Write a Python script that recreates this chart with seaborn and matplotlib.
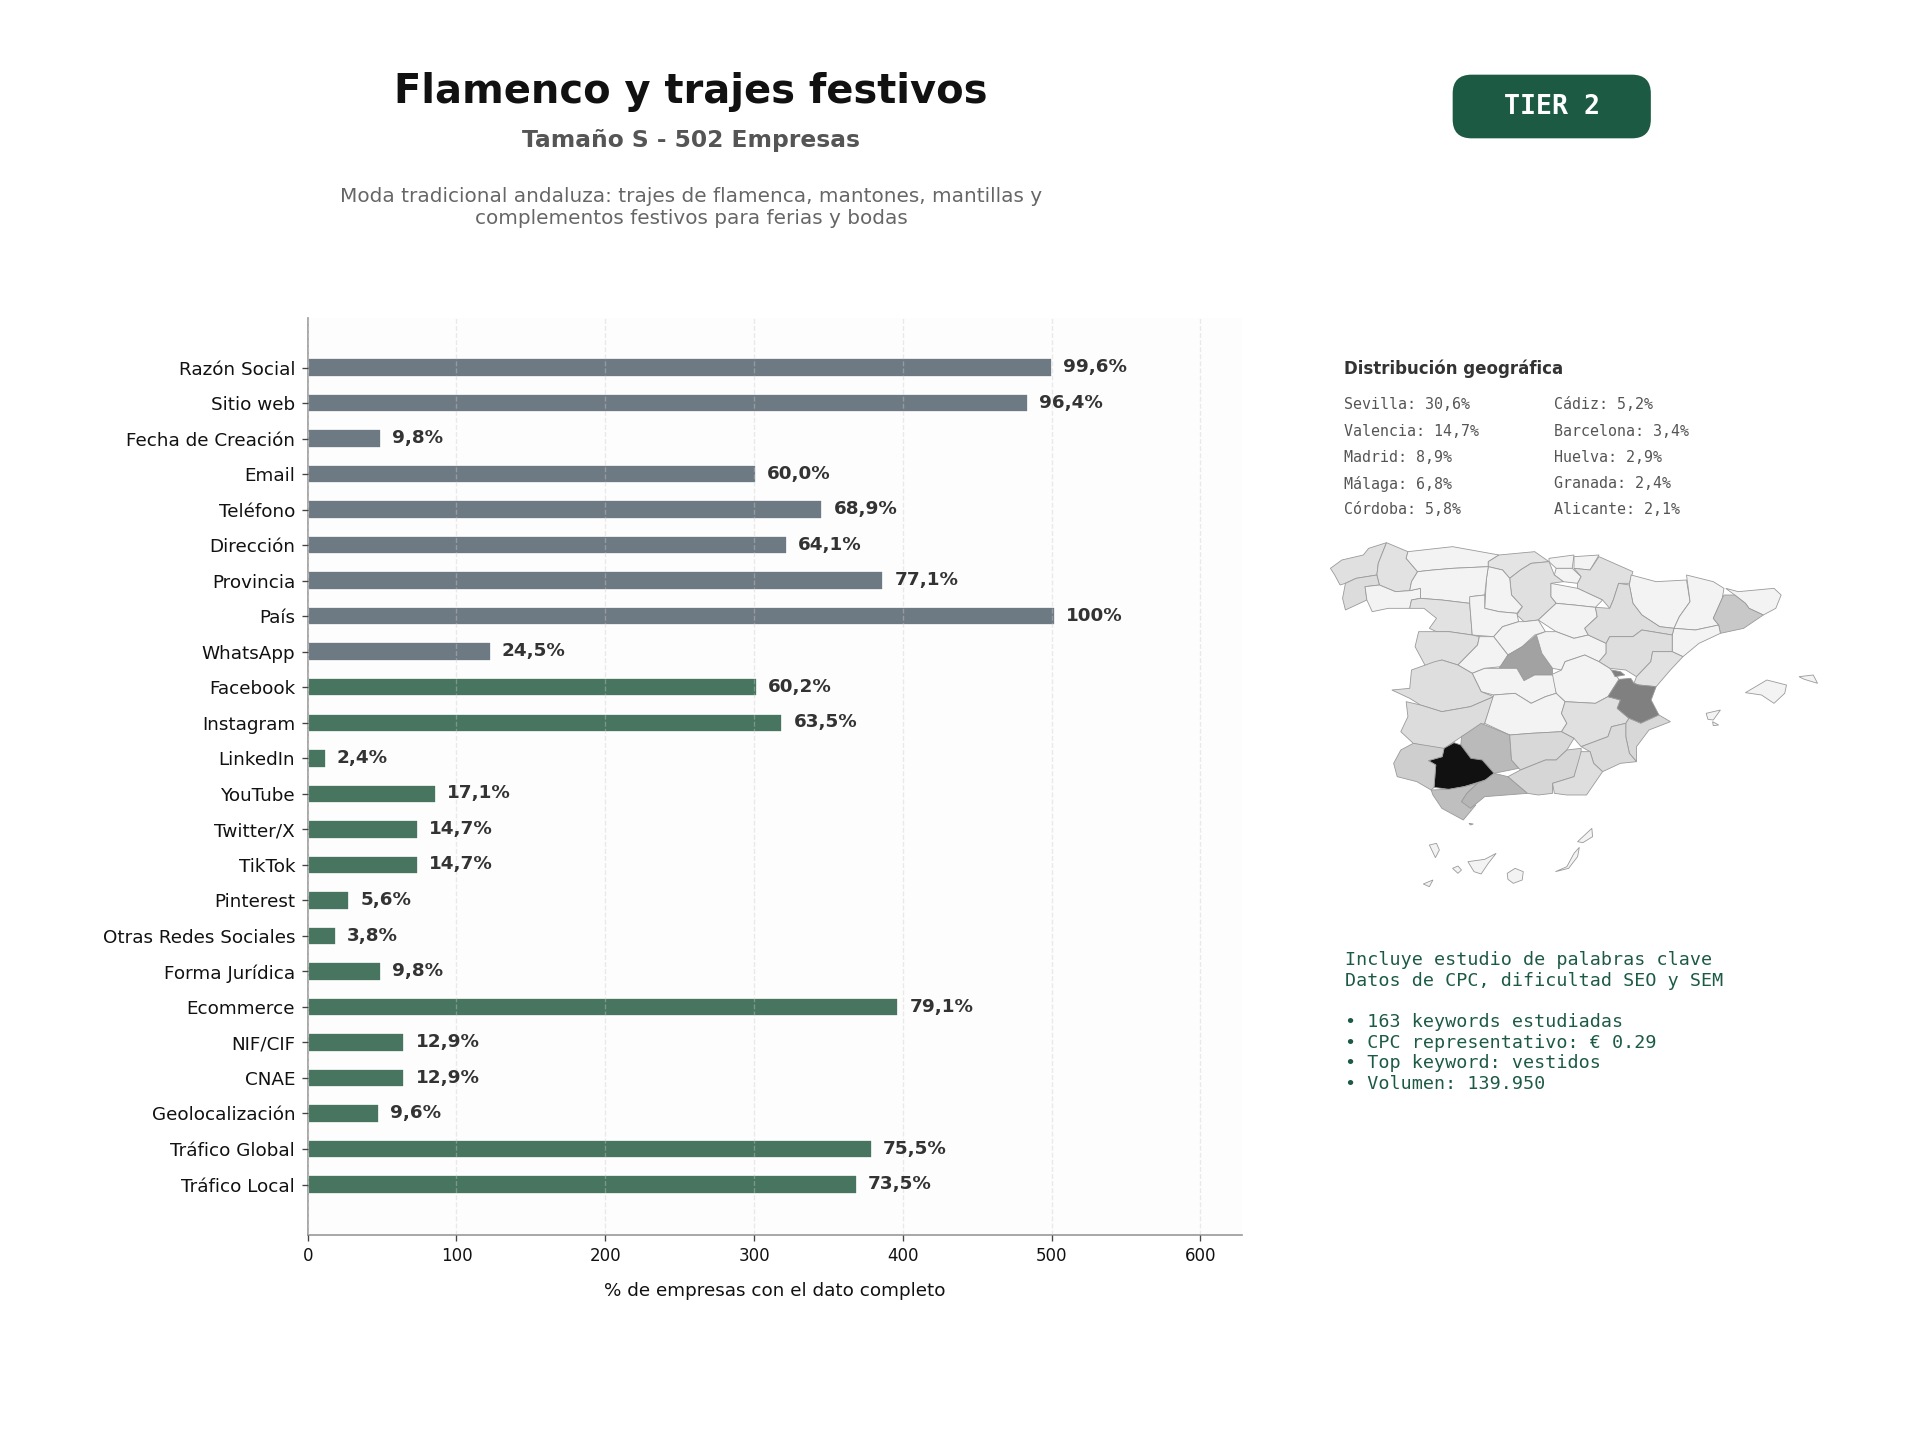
import matplotlib
matplotlib.use("Agg")
import matplotlib.pyplot as plt
from matplotlib.patches import FancyBboxPatch
import pandas as pd
import seaborn as sns

# datos de la grafica
campos = ["Razón Social", "Sitio web", "Fecha de Creación", "Email", "Teléfono", "Dirección",
          "Provincia", "País", "WhatsApp", "Facebook", "Instagram", "LinkedIn", "YouTube",
          "Twitter/X", "TikTok", "Pinterest", "Otras Redes Sociales", "Forma Jurídica",
          "Ecommerce", "NIF/CIF", "CNAE", "Geolocalización", "Tráfico Global", "Tráfico Local"]
empresas = [500, 484, 49, 301, 346, 322, 387, 502, 123, 302, 319, 12, 86, 74, 74, 28, 19, 49,
            397, 65, 65, 48, 379, 369]
etiquetas = ["99,6%", "96,4%", "9,8%", "60,0%", "68,9%", "64,1%", "77,1%", "100%", "24,5%",
             "60,2%", "63,5%", "2,4%", "17,1%", "14,7%", "14,7%", "5,6%", "3,8%", "9,8%",
             "79,1%", "12,9%", "12,9%", "9,6%", "75,5%", "73,5%"]
grupos = ["basico"] * 9 + ["digital"] * 15

geo_col1 = ["Sevilla: 30,6%", "Valencia: 14,7%", "Madrid: 8,9%", "Málaga: 6,8%", "Córdoba: 5,8%"]
geo_col2 = ["Cádiz: 5,2%", "Barcelona: 3,4%", "Huelva: 2,9%", "Granada: 2,4%", "Alicante: 2,1%"]

texto_keywords = ("Incluye estudio de palabras clave\nDatos de CPC, dificultad SEO y SEM\n\n"
                  "• 163 keywords estudiadas\n• CPC representativo: € 0.29\n"
                  "• Top keyword: vestidos\n• Volumen: 139.950")

# tono de gris de cada provincia
tonos = {
    "sevilla": "#111111", "valencia": "#808080", "rincon": "#808080", "madrid": "#a2a2a2",
    "malaga": "#b6b6b6", "cordoba": "#bababa", "cadiz": "#bfbfbf", "barcelona": "#c8c8c8",
    "huelva": "#cecece", "granada": "#d6d6d6", "jaen": "#d8d8d8", "alicante": "#d8d8d8",
    "almeria": "#dedede", "murcia": "#dadada", "albacete": "#e0e0e0", "badajoz": "#dcdcdc",
    "caceres": "#dedede", "salamanca": "#e0e0e0", "zamora": "#e2e2e2", "zaragoza": "#dedede",
    "teruel": "#dedede", "castellon": "#e2e2e2", "burgos": "#e0e0e0", "navarra": "#e0e0e0",
    "cantabria": "#e4e4e4", "coruna": "#e0e0e0", "lugo": "#e2e2e2", "pontevedra": "#dcdcdc",
    "ceuta": "#bbbbbb",
}
tono_claro = "#f3f3f3"

# contornos de provincias (coordenadas del recorte del mapa)
provincias = {
    "coruna": [(88, 145), (120, 120), (180, 105), (195, 85), (245, 68), (222, 130), (218, 165), (160, 175), (130, 190), (115, 195), (100, 165)],
    "lugo": [(245, 68), (305, 95), (300, 115), (332, 155), (315, 185), (310, 212), (270, 215), (225, 195), (218, 165), (222, 130)],
    "pontevedra": [(130, 190), (160, 175), (218, 165), (225, 195), (185, 200), (190, 240), (130, 270), (122, 235)],
    "ourense": [(185, 200), (225, 195), (270, 215), (310, 212), (340, 205), (340, 235), (315, 240), (310, 265), (250, 265), (205, 275), (190, 240)],
    "asturias": [(305, 95), (430, 80), (560, 105), (530, 125), (530, 140), (430, 145), (375, 150), (332, 155), (300, 115)],
    "cantabria": [(530, 125), (560, 105), (660, 95), (700, 125), (650, 130), (620, 150), (590, 175), (570, 150), (530, 140)],
    "vizcaya": [(700, 115), (770, 105), (765, 145), (720, 145), (700, 125)],
    "guipuzcoa": [(770, 110), (840, 105), (815, 150), (770, 145)],
    "alava": [(720, 145), (765, 145), (790, 170), (780, 190), (740, 185), (715, 165)],
    "navarra": [(815, 150), (840, 110), (935, 155), (925, 190), (895, 190), (880, 240), (870, 265), (850, 240), (780, 205), (780, 190), (790, 170), (770, 145)],
    "rioja": [(705, 190), (780, 205), (850, 240), (830, 262), (770, 255), (720, 250), (705, 230)],
    "burgos": [(590, 175), (620, 150), (650, 130), (700, 125), (715, 165), (740, 185), (705, 190), (705, 230), (720, 250), (670, 300), (630, 305), (610, 285), (625, 260), (595, 225)],
    "palencia": [(530, 140), (570, 150), (590, 175), (595, 225), (625, 260), (610, 280), (560, 275), (520, 265), (525, 175)],
    "leon": [(332, 155), (375, 150), (430, 145), (530, 140), (525, 175), (520, 225), (480, 230), (478, 250), (400, 240), (340, 235), (340, 205), (310, 212), (315, 185)],
    "zamora": [(315, 240), (340, 235), (400, 240), (478, 250), (485, 345), (420, 335), (385, 335), (365, 325), (385, 295), (350, 265), (310, 265)],
    "valladolid": [(478, 230), (520, 225), (520, 265), (560, 275), (610, 280), (615, 305), (570, 320), (545, 350), (485, 345), (478, 250)],
    "soria": [(720, 250), (770, 255), (830, 262), (835, 290), (800, 325), (810, 345), (770, 355), (720, 335), (670, 300)],
    "segovia": [(570, 320), (615, 305), (630, 305), (670, 300), (690, 335), (660, 345), (625, 380), (585, 405), (545, 350)],
    "salamanca": [(335, 335), (385, 335), (420, 335), (485, 345), (505, 350), (500, 375), (445, 435), (400, 420), (355, 440), (325, 380)],
    "avila": [(505, 350), (545, 350), (585, 405), (565, 440), (520, 445), (485, 460), (445, 435), (500, 375)],
    "madrid": [(665, 345), (680, 400), (710, 445), (710, 465), (660, 465), (630, 482), (610, 445), (560, 445), (585, 405), (625, 380)],
    "guadalajara": [(690, 335), (720, 335), (770, 355), (810, 345), (860, 370), (860, 400), (840, 425), (800, 405), (745, 425), (735, 450), (710, 445), (680, 400), (665, 345)],
    "huesca": [(930, 165), (1000, 185), (1085, 180), (1095, 245), (1065, 290), (1050, 325), (1010, 320), (960, 285), (935, 250), (925, 195)],
    "lleida": [(1085, 165), (1160, 185), (1190, 205), (1185, 235), (1160, 295), (1175, 315), (1110, 330), (1050, 325), (1065, 290), (1095, 245)],
    "girona": [(1195, 205), (1230, 215), (1330, 205), (1350, 225), (1335, 265), (1300, 285), (1260, 265), (1250, 250), (1220, 225)],
    "barcelona": [(1190, 225), (1220, 225), (1250, 250), (1260, 265), (1300, 285), (1245, 325), (1180, 340), (1175, 315), (1160, 295), (1185, 235)],
    "tarragona": [(1175, 315), (1180, 340), (1120, 370), (1075, 410), (1045, 395), (1045, 345), (1050, 325), (1110, 330)],
    "zaragoza": [(880, 240), (895, 190), (925, 195), (935, 250), (960, 285), (1010, 320), (1050, 325), (1045, 345), (960, 330), (935, 350), (870, 350), (860, 370), (810, 345), (800, 325), (835, 290), (830, 262), (870, 265)],
    "teruel": [(860, 370), (870, 350), (935, 350), (960, 330), (1045, 345), (1045, 395), (990, 395), (985, 425), (945, 470), (915, 450), (870, 445), (840, 425), (860, 400)],
    "castellon": [(990, 395), (1045, 395), (1075, 410), (1040, 450), (1000, 500), (952, 495), (938, 490), (945, 470), (985, 425)],
    "cuenca": [(745, 425), (800, 405), (840, 425), (870, 445), (896, 478), (865, 530), (830, 550), (745, 545), (720, 520), (705, 465), (735, 450)],
    "toledo": [(485, 460), (520, 445), (560, 445), (610, 445), (630, 482), (660, 465), (710, 465), (720, 520), (690, 530), (650, 550), (605, 520), (545, 525), (510, 515)],
    "caceres": [(315, 450), (380, 425), (400, 420), (445, 435), (485, 460), (510, 515), (545, 530), (480, 560), (400, 575), (340, 555), (310, 535), (260, 510), (310, 505)],
    "badajoz": [(300, 545), (340, 555), (400, 575), (480, 560), (545, 530), (520, 610), (455, 650), (400, 690), (320, 670), (285, 635), (305, 590)],
    "ciudad_real": [(545, 525), (605, 520), (650, 550), (690, 530), (720, 520), (745, 545), (735, 580), (750, 610), (735, 635), (650, 640), (590, 645), (520, 610)],
    "albacete": [(745, 545), (830, 550), (865, 530), (900, 540), (891, 565), (924, 595), (915, 610), (875, 620), (865, 650), (790, 680), (770, 655), (735, 635), (750, 610), (735, 580)],
    "valencia": [(896, 478), (929, 475), (938, 490), (952, 495), (1000, 500), (986, 540), (1008, 585), (957, 610), (924, 595), (891, 565), (900, 540), (865, 530)],
    "rincon": [(875, 450), (900, 455), (912, 465), (885, 470)],
    "alicante": [(924, 595), (957, 610), (1008, 585), (1040, 605), (980, 630), (945, 680), (945, 725), (925, 700), (915, 650), (915, 610)],
    "murcia": [(875, 620), (915, 610), (915, 650), (925, 700), (945, 725), (900, 730), (850, 755), (825, 730), (815, 695), (790, 680), (865, 650)],
    "cordoba": [(455, 650), (510, 610), (590, 645), (595, 720), (615, 745), (546, 760), (513, 720), (481, 715), (453, 675)],
    "sevilla": [(406, 685), (434, 668), (453, 675), (481, 715), (513, 720), (546, 760), (522, 780), (462, 800), (420, 808), (378, 802), (383, 735), (362, 722), (401, 710)],
    "huelva": [(320, 670), (406, 685), (401, 710), (362, 722), (383, 735), (378, 802), (370, 810), (330, 785), (275, 770), (265, 730), (285, 690)],
    "cadiz": [(370, 810), (420, 808), (462, 800), (500, 790), (470, 820), (455, 845), (495, 855), (460, 900), (400, 865), (375, 825)],
    "malaga": [(500, 790), (522, 780), (546, 760), (585, 770), (640, 820), (580, 825), (520, 830), (480, 865), (455, 845), (470, 820)],
    "jaen": [(590, 645), (650, 640), (735, 635), (770, 655), (750, 690), (720, 720), (690, 720), (620, 750), (595, 720)],
    "granada": [(585, 770), (620, 750), (690, 720), (720, 720), (750, 690), (790, 685), (790, 705), (770, 770), (710, 790), (710, 820), (670, 825), (640, 820)],
    "almeria": [(790, 695), (815, 695), (825, 730), (850, 755), (805, 825), (750, 825), (715, 820), (710, 790), (770, 770)],
    "ceuta": [(476, 910), (488, 912), (480, 915)],
    "mallorca": [(1250, 518), (1310, 480), (1365, 495), (1360, 520), (1330, 550), (1295, 525)],
    "menorca": [(1400, 470), (1440, 465), (1452, 490), (1415, 478)],
    "ibiza": [(1140, 580), (1180, 570), (1160, 600), (1145, 598)],
    "formentera": [(1158, 605), (1175, 615), (1160, 617)],
    "la_palma": [(365, 975), (385, 970), (393, 990), (382, 1013)],
    "tenerife": [(473, 1025), (520, 1018), (552, 1000), (530, 1030), (510, 1062), (490, 1055)],
    "gomera": [(430, 1045), (445, 1038), (455, 1050), (445, 1060)],
    "gran_canaria": [(583, 1060), (605, 1045), (628, 1055), (625, 1080), (600, 1090), (585, 1078)],
    "hierro": [(348, 1092), (375, 1080), (365, 1100)],
    "fuerteventura": [(718, 1055), (750, 1040), (770, 1000), (785, 982), (780, 1010), (755, 1045)],
    "lanzarote": [(780, 965), (800, 945), (820, 925), (822, 950), (795, 968)],
}

VERDE = "#1c5a44"
colores = {"basico": "#6e7a83", "digital": "#47755f"}

sns.set_style("white")
fig = plt.figure(figsize=(16, 12), dpi=120)
W, H = 1920, 1440


def caja(x0, y0, x1, y1):
    # rectangulo en pixeles a fraccion de figura
    return [x0 / W, 1 - y1 / H, (x1 - x0) / W, (y1 - y0) / H]


# capa de fondo para textos sueltos, en pixeles
capa = fig.add_axes([0, 0, 1, 1])
capa.set_xlim(0, W)
capa.set_ylim(H, 0)
capa.axis("off")

capa.text(690.5, 92.5, "Flamenco y trajes festivos", ha="center", va="center", fontsize=24,
          fontweight="bold", color="#111111")
capa.text(690.5, 141, "Tamaño S - 502 Empresas", ha="center", va="center", fontsize=14,
          fontweight="bold", color="#555555")
capa.text(691.5, 207.5, "Moda tradicional andaluza: trajes de flamenca, mantones, mantillas y\n"
          "complementos festivos para ferias y bodas", ha="center", va="center", fontsize=12,
          color="#666666", linespacing=1.19)

capa.add_patch(FancyBboxPatch((1453.5, 75.5), 196.5, 62, boxstyle="round,pad=0,rounding_size=18",
                              facecolor=VERDE, edgecolor=VERDE, linewidth=1))
capa.text(1552, 106.5, "TIER 2", ha="center", va="center", fontsize=16, fontweight="bold",
          family="DejaVu Sans Mono", color="white")

capa.text(1344, 368.5, "Distribución geográfica", ha="left", va="center", fontsize=10,
          fontweight="bold", color="#333333")
geo_y = [404.5, 431, 457, 483.5, 509]
for texto, y in zip(geo_col1, geo_y):
    capa.text(1343.5, y, texto, ha="left", va="center", fontsize=9, family="DejaVu Sans Mono", color="#555555")
for texto, y in zip(geo_col2, geo_y):
    capa.text(1554.5, y, texto, ha="left", va="center", fontsize=9, family="DejaVu Sans Mono", color="#555555")

capa.text(1345, 951, texto_keywords, ha="left", va="top", fontsize=11, family="DejaVu Sans Mono",
          color=VERDE, linespacing=1.19)

# barras
df = pd.DataFrame({"campo": campos, "empresas": empresas, "grupo": grupos})
ax = fig.add_axes(caja(307.7, 317.5, 1242.3, 1235.3))
ax.set_facecolor("#fdfdfd")
sns.barplot(data=df, x="empresas", y="campo", hue="grupo", palette=colores, dodge=False,
            width=0.52, saturation=1, legend=False, orient="h", ax=ax)
ax.set_xlim(0, 628.2)
ax.set_ylim(len(campos) - 1 + 1.43, -1.41)
ax.set_xticks([0, 100, 200, 300, 400, 500, 600])
ax.grid(axis="x", linestyle="--", color="#cccccc", alpha=0.4, linewidth=0.8)
ax.set_axisbelow(False)
ax.grid(axis="y", visible=False)
for n, (valor, etiqueta) in enumerate(zip(empresas, etiquetas)):
    ax.text(valor + 7.5, n - 0.01, etiqueta, va="center", ha="left", fontsize=11, fontweight="bold", color="#333333")
ax.set_ylabel("")
ax.set_xlabel("% de empresas con el dato completo", fontsize=11, labelpad=10, color="#111111")
ax.tick_params(axis="y", labelsize=11, length=3.5, width=0.8, color="#444444", pad=4, left=True, labelcolor="#111111")
ax.tick_params(axis="x", labelsize=10, length=3.5, width=0.8, color="#444444", bottom=True, labelcolor="#111111")
sns.despine(ax=ax)
for lado in ["left", "bottom"]:
    ax.spines[lado].set_color("#999999")
    ax.spines[lado].set_linewidth(1.0)

# mapa de provincias
mapa = fig.add_axes(caja(1299, 520, 1859, 910))
mapa.set_xlim(0, 1568)
mapa.set_ylim(1170, 0)
mapa.axis("off")
for nombre, contorno in provincias.items():
    xs = [p[0] for p in contorno]
    ys = [p[1] for p in contorno]
    mapa.fill(xs, ys, facecolor=tonos.get(nombre, tono_claro), edgecolor="#9a9a9a", linewidth=0.5)

fig.savefig("out.png", dpi=120)
